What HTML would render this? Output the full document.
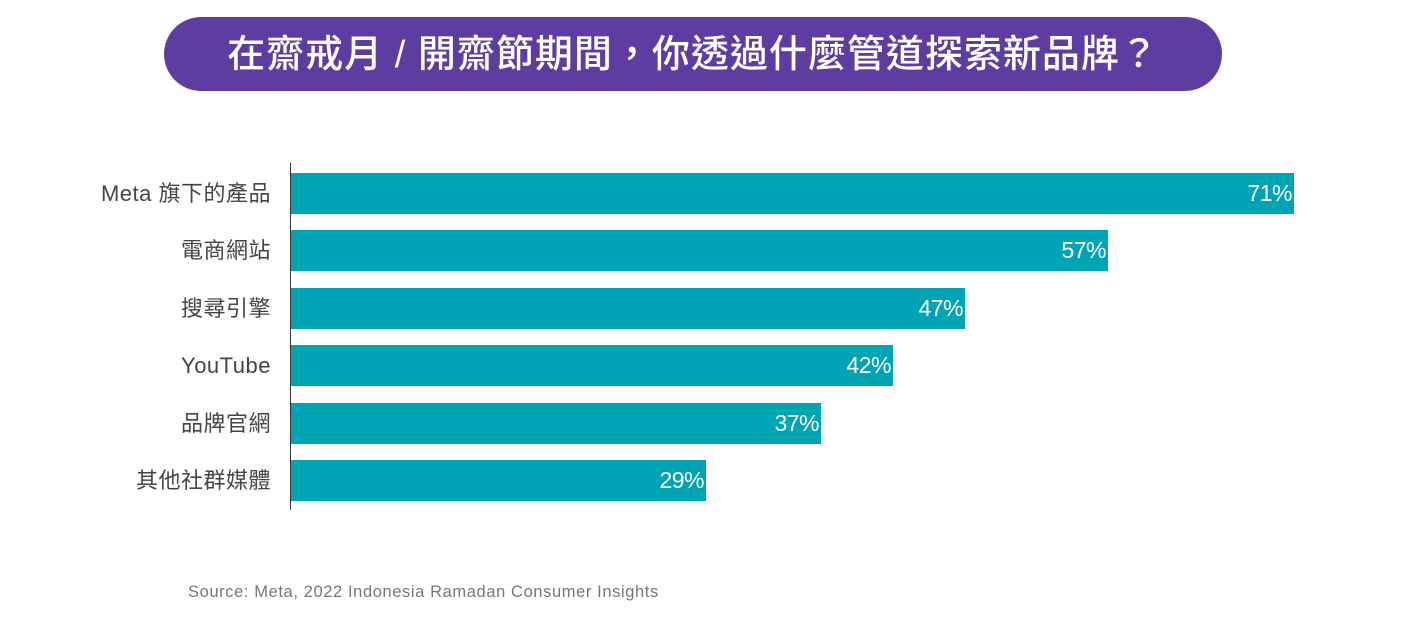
<!DOCTYPE html>
<html><head><meta charset="utf-8"><style>
body{margin:0;width:1412px;height:626px;background:#fff;position:relative;overflow:hidden;font-family:"Liberation Sans","Noto Sans CJK TC",sans-serif}
.pill{position:absolute;left:164px;top:17px;width:1058px;height:74px;border-radius:37px;background:#5f3ca0;color:#fff;font-size:38px;line-height:76px;text-align:center;font-weight:500;letter-spacing:1px}
.axis{position:absolute;left:290px;top:163px;width:1px;height:347px;background:#333}
.bar{position:absolute;left:291px;height:41px;background:#00a4b5;color:#fff;font-size:23px;line-height:41px;text-align:right;box-sizing:border-box;padding-right:2px;letter-spacing:-0.5px}
.lab{position:absolute;right:1141px;font-size:22px;color:#444;line-height:41px;white-space:nowrap;letter-spacing:0.5px}
.src{position:absolute;left:188px;top:583px;font-size:16.5px;color:#777;letter-spacing:0.6px}
</style></head><body>
<div class="pill">在齋戒月 / 開齋節期間，你透過什麼管道探索新品牌？</div>
<div class="axis"></div>
<div class="lab" style="top:173px">Meta 旗下的產品</div><div class="bar" style="top:173px;width:1003px">71%</div>
<div class="lab" style="top:230px">電商網站</div><div class="bar" style="top:230px;width:817px">57%</div>
<div class="lab" style="top:288px">搜尋引擎</div><div class="bar" style="top:288px;width:674px">47%</div>
<div class="lab" style="top:345px">YouTube</div><div class="bar" style="top:345px;width:602px">42%</div>
<div class="lab" style="top:403px">品牌官網</div><div class="bar" style="top:403px;width:530px">37%</div>
<div class="lab" style="top:460px">其他社群媒體</div><div class="bar" style="top:460px;width:415px">29%</div>
<div class="src">Source: Meta, 2022 Indonesia Ramadan Consumer Insights</div>
</body></html>
